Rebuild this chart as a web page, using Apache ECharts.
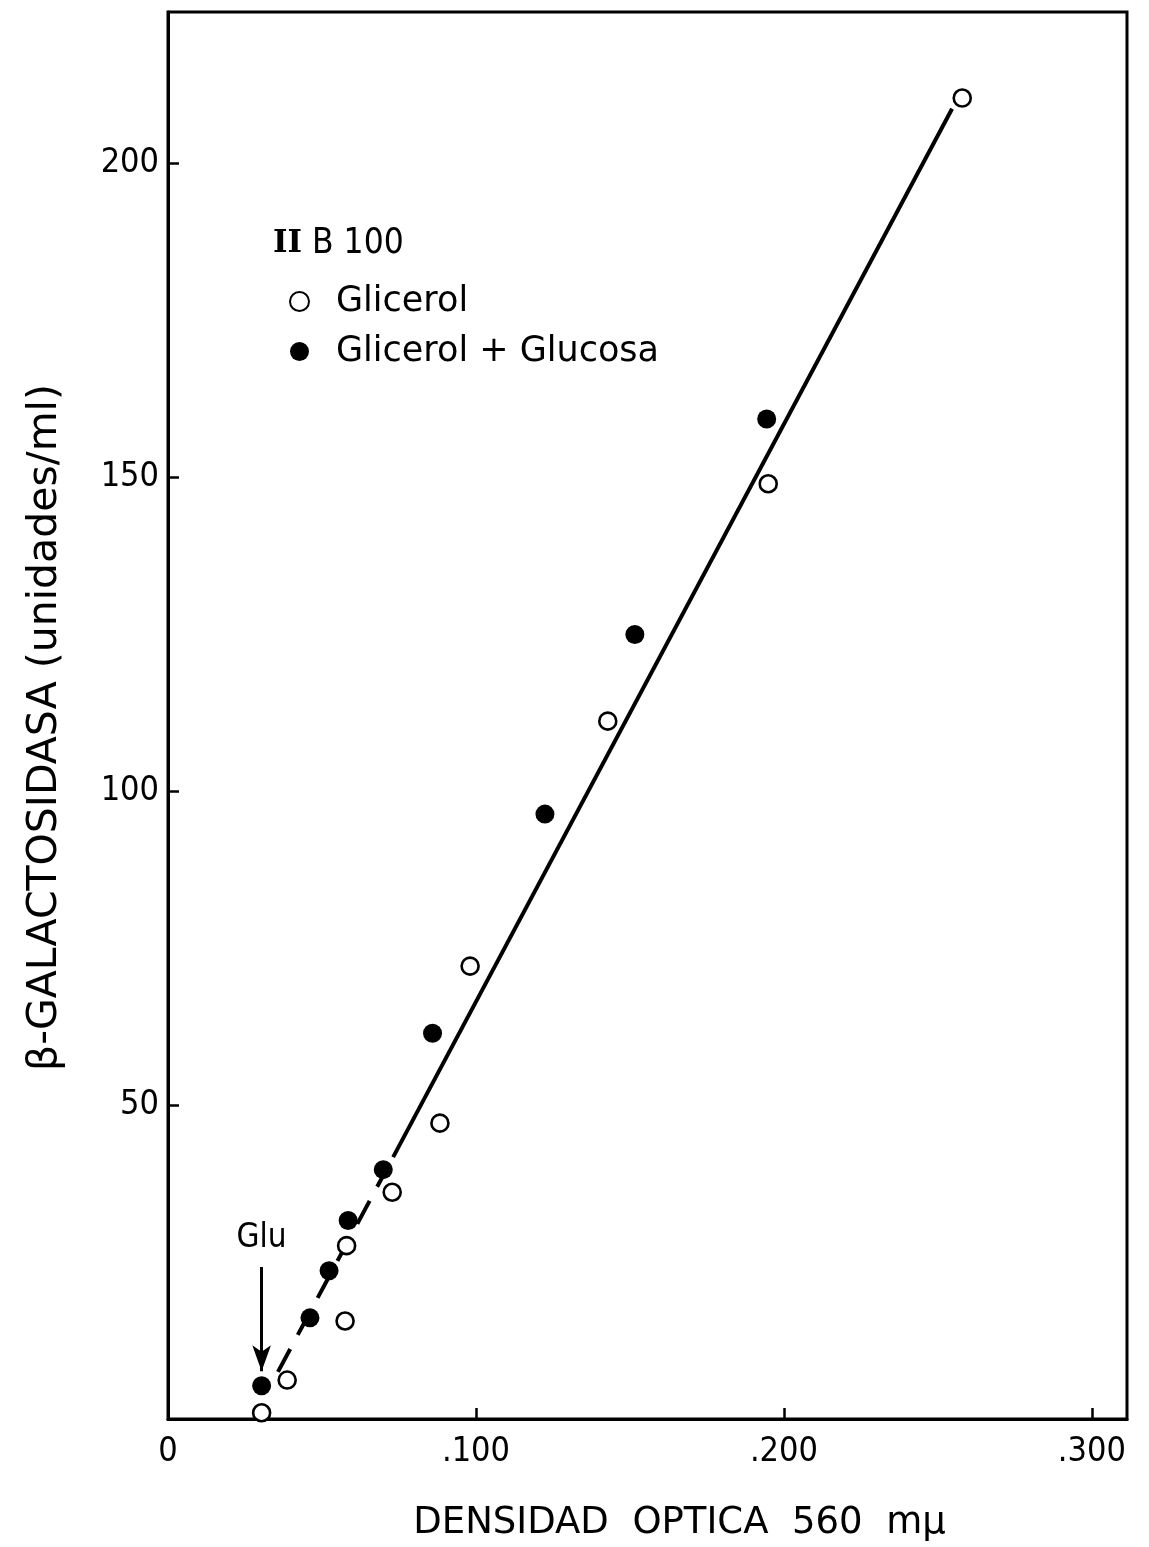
<!DOCTYPE html>
<html>
<head>
<meta charset="utf-8">
<title>β-Galactosidasa vs densidad óptica</title>
<script src="https://cdn.jsdelivr.net/npm/echarts@6/dist/echarts.min.js"></script>
<style>
  html, body { margin: 0; padding: 0; background: #fff; }
  #chart { width: 1149px; height: 1547px; }
</style>
</head>
<body>
<div id="chart"></div>
<script>
// Densidad óptica (560 mμ) vs β-galactosidasa (unidades/ml), cepa II B 100
const glicerol = [
  [0.0304, 1.0], [0.0387, 6.2], [0.0575, 15.6], [0.0580, 27.6], [0.0728, 36.1],
  [0.0883, 47.1], [0.0981, 72.1], [0.1428, 111.1], [0.1949, 148.9], [0.2579, 210.3]
];
const glicerolGlucosa = [
  [0.0304, 5.3], [0.0461, 16.1], [0.0523, 23.6], [0.0585, 31.6], [0.0699, 39.7],
  [0.0859, 61.4], [0.1224, 96.3], [0.1516, 124.9], [0.1944, 159.2]
];
// fitted line: solid upper part, dashed lower part
const fitSolid = [[0.0731, 41.7], [0.2546, 208.6]];
const fitDashed = [[0.0357, 7.5], [0.0731, 41.7]];
// "Glu" arrow (glucose addition)
const gluArrow = [[0.0304, 24.2], [0.0304, 7.6]];

const xTicks = [0, 0.1, 0.2, 0.3];
const yTicks = [50, 100, 150, 200];

const FONT_NARROW = "'DejaVu Sans Condensed', 'DejaVu Sans', sans-serif";
const FONT = "'DejaVu Sans', sans-serif";
const INK = '#000';

const chart = echarts.init(document.getElementById('chart'), null, { renderer: 'canvas' });

chart.setOption({
  backgroundColor: '#fff',
  animation: false,
  title: {
    left: 268, top: 221,
    text: '{r|II}{s| B 100}',
    textStyle: {
      fontWeight: 'normal',
      rich: {
        r: { fontFamily: "'DejaVu Serif', serif", fontWeight: 'bold', fontSize: 31, color: INK },
        s: { fontFamily: FONT_NARROW, fontWeight: 'normal', fontSize: 35, color: INK }
      }
    }
  },
  legend: {
    orient: 'vertical',
    left: 284, top: 279,
    itemWidth: 19, itemHeight: 19,
    itemGap: 15,
    textStyle: { fontFamily: FONT, fontSize: 35, color: INK, padding: [0, 0, 0, 22] },
    data: ['Glicerol', 'Glicerol + Glucosa']
  },
  grid: {
    left: 168, right: 22, top: 12, bottom: 127,
    show: true, borderColor: INK, borderWidth: 3, backgroundColor: 'transparent'
  },
  xAxis: {
    type: 'value',
    min: 0, max: 0.3114, interval: 0.1,
    name: 'DENSIDAD  OPTICA  560  mμ',
    nameLocation: 'middle', nameGap: 86,
    nameTextStyle: { fontFamily: FONT, fontSize: 37, color: INK, padding: [0, 0, 0, 64] },
    axisLine: { lineStyle: { color: INK, width: 3 } },
    axisTick: { inside: true, length: 11, customValues: xTicks, lineStyle: { color: INK, width: 2.5 } },
    axisLabel: {
      customValues: xTicks, margin: 16,
      fontFamily: FONT_NARROW, fontSize: 34, color: INK,
      formatter: v => v === 0 ? '0' : '.' + Math.round(v * 1000)
    },
    splitLine: { show: false }
  },
  yAxis: {
    type: 'value',
    min: 0, max: 224, interval: 50,
    name: 'β-GALACTOSIDASA (unidades/ml)',
    nameLocation: 'middle', nameGap: 102,
    nameTextStyle: { fontFamily: FONT, fontSize: 41, color: INK, padding: [0, 24, 0, 0] },
    axisLine: { lineStyle: { color: INK, width: 3 } },
    axisTick: { inside: true, length: 11, customValues: yTicks, lineStyle: { color: INK, width: 2.5 } },
    axisLabel: {
      customValues: yTicks, margin: 9,
      fontFamily: FONT_NARROW, fontSize: 34, color: INK
    },
    splitLine: { show: false }
  },
  series: [
    {
      name: 'fit-solid', type: 'line', data: fitSolid,
      symbol: 'none', silent: true, z: 1,
      lineStyle: { color: INK, width: 4 }
    },
    {
      name: 'fit-dashed', type: 'line', data: fitDashed,
      symbol: 'none', silent: true, z: 1,
      lineStyle: { color: INK, width: 4, type: [26, 16] }
    },
    {
      name: 'Glicerol', type: 'scatter', data: glicerol,
      symbol: 'circle', symbolSize: 17, z: 3,
      itemStyle: { color: '#fff', borderColor: INK, borderWidth: 2.6, opacity: 1 }
    },
    {
      name: 'Glicerol + Glucosa', type: 'scatter', data: glicerolGlucosa,
      symbol: 'circle', symbolSize: 19, z: 3,
      itemStyle: { color: INK, borderColor: INK, borderWidth: 0, opacity: 1 },
      markLine: {
        silent: true,
        symbol: ['none', 'arrow'],
        symbolSize: [14, 26],
        lineStyle: { color: INK, width: 3, type: 'solid' },
        label: {
          show: true, position: 'start', distance: 12,
          formatter: 'Glu',
          fontFamily: FONT_NARROW, fontSize: 33, color: INK
        },
        data: [[{ coord: gluArrow[0] }, { coord: gluArrow[1] }]]
      }
    }
  ]
});
</script>
</body>
</html>
